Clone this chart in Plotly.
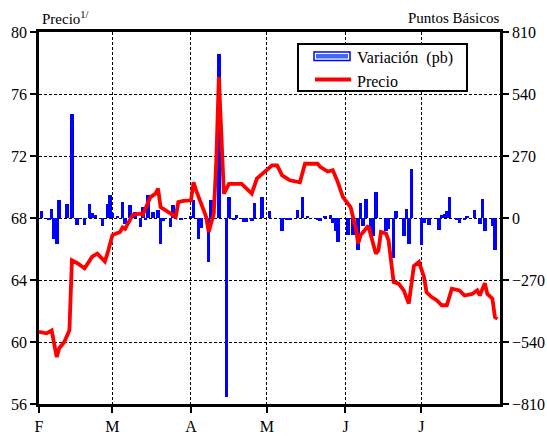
import plotly.graph_objects as go

# Daily change (basis points), plotted as bars on the right-hand axis
bar_dates = [
    "2008-02-02", "2008-02-05", "2008-02-06", "2008-02-07", "2008-02-08", "2008-02-09",
    "2008-02-12", "2008-02-14", "2008-02-16", "2008-02-19", "2008-02-21", "2008-02-22",
    "2008-02-23", "2008-02-26", "2008-02-28", "2008-02-29", "2008-03-01", "2008-03-03",
    "2008-03-05", "2008-03-06", "2008-03-08", "2008-03-10", "2008-03-12", "2008-03-13",
    "2008-03-14", "2008-03-15", "2008-03-17", "2008-03-19", "2008-03-20", "2008-03-21",
    "2008-03-24", "2008-03-25", "2008-03-28", "2008-04-01", "2008-04-02", "2008-04-04",
    "2008-04-05", "2008-04-08", "2008-04-09", "2008-04-12", "2008-04-15", "2008-04-16",
    "2008-04-18", "2008-04-19", "2008-04-22", "2008-04-23", "2008-04-25", "2008-04-26",
    "2008-04-29", "2008-05-02", "2008-05-07", "2008-05-09", "2008-05-10", "2008-05-13",
    "2008-05-15", "2008-05-17", "2008-05-21", "2008-05-22", "2008-05-24", "2008-05-26",
    "2008-05-27", "2008-05-28", "2008-05-29", "2008-06-02", "2008-06-04", "2008-06-06",
    "2008-06-07", "2008-06-08", "2008-06-09", "2008-06-11", "2008-06-12", "2008-06-13",
    "2008-06-17", "2008-06-18", "2008-06-20", "2008-06-21", "2008-06-24", "2008-06-25",
    "2008-06-26", "2008-06-27", "2008-07-01", "2008-07-02", "2008-07-04", "2008-07-08",
    "2008-07-09", "2008-07-10", "2008-07-11", "2008-07-12", "2008-07-15", "2008-07-16",
    "2008-07-18", "2008-07-19", "2008-07-22", "2008-07-24", "2008-07-25", "2008-07-26",
    "2008-07-29", "2008-07-30",
]
bar_values = [
    29, -10, 38, -90, -115, 80,
    63, 455, -29, -29, 63, 23,
    13, -36, 63, 99, 23, 5,
    70, -26, 55, 26, -39, 48,
    -10, 99, 26, 35, -115, -12,
    -37, 55, -8, 10, 80, -90,
    -45, -192, 80, 716, -780, 90,
    -5, 15, -18, -18, -15, 64,
    90, 30, -58, -7, -5, 36,
    90, 5, -10, -12, 8, 13,
    -20, -55, -104, -72, -75, -141,
    65, -35, 81, -65, -80, 115,
    -58, -50, -173, 29, -80, 39,
    -113, 213, -116, -22, -29, -51,
    12, 17, 29, 92, -9, -22,
    -8, 5, 36, -26, 81, -58,
    -35, -141,
]

# Price, plotted as a line on the left-hand axis
price_dates = [
    "2008-02-01", "2008-02-04", "2008-02-06", "2008-02-08", "2008-02-09", "2008-02-11",
    "2008-02-13", "2008-02-14", "2008-02-16", "2008-02-19", "2008-02-22", "2008-02-24",
    "2008-02-27", "2008-02-28",
    "2008-03-01", "2008-03-04", "2008-03-05", "2008-03-06", "2008-03-07", "2008-03-09",
    "2008-03-12", "2008-03-13", "2008-03-14", "2008-03-16", "2008-03-18", "2008-03-19",
    "2008-03-20", "2008-03-22", "2008-03-24", "2008-03-26", "2008-03-27", "2008-03-29",
    "2008-04-01", "2008-04-02", "2008-04-03", "2008-04-05", "2008-04-07", "2008-04-08",
    "2008-04-10", "2008-04-11", "2008-04-12", "2008-04-14", "2008-04-16", "2008-04-21",
    "2008-04-25", "2008-04-27", "2008-04-30",
    "2008-05-03", "2008-05-05", "2008-05-07", "2008-05-10", "2008-05-14", "2008-05-16",
    "2008-05-18", "2008-05-21", "2008-05-22", "2008-05-25", "2008-05-27", "2008-05-29",
    "2008-05-31",
    "2008-06-03", "2008-06-05", "2008-06-06", "2008-06-07", "2008-06-10", "2008-06-13",
    "2008-06-14", "2008-06-15", "2008-06-17", "2008-06-18", "2008-06-20", "2008-06-22",
    "2008-06-24", "2008-06-26", "2008-06-28", "2008-06-30",
    "2008-07-02", "2008-07-03", "2008-07-05", "2008-07-07", "2008-07-09", "2008-07-11",
    "2008-07-13", "2008-07-16", "2008-07-18", "2008-07-21", "2008-07-23", "2008-07-24",
    "2008-07-26", "2008-07-27", "2008-07-29", "2008-07-30", "2008-07-31",
]
price_values = [
    60.65, 60.56, 60.75, 59.03, 59.6, 60.0,
    60.75, 65.27, 65.1, 64.75, 65.5, 65.7,
    65.2, 65.7,
    66.9, 67.1, 67.4, 67.3, 67.6, 68.2,
    68.28, 68.2, 68.6, 69.35, 69.57, 69.9,
    68.7, 68.5, 68.28, 68.07, 69.03, 69.1,
    69.14, 70.3, 69.8, 68.93, 68.07, 67.1,
    68.28, 71.7, 77.1, 69.57, 70.2, 70.2,
    69.57, 70.54, 70.97,
    71.4, 71.4, 70.75, 70.43, 70.3, 71.5,
    71.5, 71.5, 71.3, 71.0, 71.08, 70.3,
    69.35,
    68.7, 67.4, 66.35, 66.9, 67.5, 65.7,
    65.9, 67.1, 67.0, 66.56, 63.87, 63.77,
    63.33, 62.48, 64.9, 65.16,
    64.2, 63.2, 62.9, 62.7, 62.37, 62.37,
    63.44, 63.33, 63.0, 63.1, 63.33, 63.0,
    63.8, 63.1, 62.8, 61.6, 61.5,
]

month_ticks = ["2008-02-01", "2008-03-01", "2008-04-01", "2008-05-01", "2008-06-01", "2008-07-01"]
month_labels = ["F", "M", "A", "M", "J", "J"]

price_ticks = [56, 60, 64, 68, 72, 76, 80]
bp_ticks = [-810, -540, -270, 0, 270, 540, 810]

FONT = '"Times New Roman", "Liberation Serif", Times, serif'
W, H = 547, 436
ML, MR, MT, MB = 39, 47, 32, 32
PW, PH = W - ML - MR, H - MT - MB


def px(x):
    return (x - ML) / PW


def py(y):
    return (H - MB - y) / PH


fig = go.Figure()

fig.add_trace(go.Bar(
    x=bar_dates, y=bar_values, yaxis="y",
    marker=dict(color="#0000ff", line=dict(width=0)),
    width=86400000 * 1.4,
    name="Variación  (pb)", showlegend=False,
))

fig.add_trace(go.Scatter(
    x=price_dates, y=price_values, yaxis="y2",
    mode="lines", line=dict(color="#ff0000", width=3.8),
    name="Precio", showlegend=False,
))

grid = dict(showgrid=True, gridcolor="black", gridwidth=1, griddash="3px,2px")
axis_line = dict(showline=True, linecolor="black", linewidth=2.5)
tickfont = dict(family=FONT, size=16, color="black")

fig.update_layout(
    width=W, height=H,
    margin=dict(l=ML, r=MR, t=MT, b=MB, pad=0, autoexpand=False),
    plot_bgcolor="white", paper_bgcolor="white",
    font=dict(family=FONT, size=16, color="black"),
    bargap=0,
    xaxis=dict(
        type="date", range=["2008-02-01", "2008-08-01"],
        tickvals=month_ticks, ticktext=month_labels,
        ticks="outside", ticklen=6, tickwidth=2, tickcolor="black",
        tickfont=tickfont, ticklabelstandoff=0, automargin=False,
        mirror=True, zeroline=False, **grid, **axis_line,
    ),
    yaxis=dict(
        side="right", range=[-810, 810], tickvals=bp_ticks,
        ticks="outside", ticklen=6, tickwidth=2, tickcolor="black",
        tickfont=tickfont, zeroline=False, automargin=False,
        **grid, **axis_line,
    ),
    yaxis2=dict(
        side="left", overlaying="y", range=[56, 80], tickvals=price_ticks,
        ticks="outside", ticklen=6, tickwidth=2, tickcolor="black",
        tickfont=tickfont, showgrid=False, zeroline=False, automargin=False,
        **axis_line,
    ),
    showlegend=False,
)

# Axis titles
fig.add_annotation(x=px(40), y=py(18), xref="paper", yref="paper",
                   text="Precio<sup>1/</sup>", showarrow=False,
                   xanchor="left", yanchor="middle",
                   font=dict(family=FONT, size=15, color="black"))
fig.add_annotation(x=px(501), y=py(18), xref="paper", yref="paper",
                   text="Puntos Básicos", showarrow=False,
                   xanchor="right", yanchor="middle",
                   font=dict(family=FONT, size=15, color="black"))

# Legend box
fig.add_shape(type="rect", xref="paper", yref="paper",
              x0=px(298), x1=px(467), y0=py(91), y1=py(44),
              line=dict(color="black", width=2), fillcolor="white", layer="above")
fig.add_shape(type="rect", xref="paper", yref="paper",
              x0=px(314), x1=px(350), y0=py(60.5), y1=py(52),
              line=dict(color="#0000ff", width=1.5), fillcolor="white", layer="above")
fig.add_shape(type="rect", xref="paper", yref="paper",
              x0=px(316), x1=px(348), y0=py(58.5), y1=py(54),
              line=dict(width=0), fillcolor="#3d6cf2", layer="above")
fig.add_shape(type="line", xref="paper", yref="paper",
              x0=px(315), x1=px(351), y0=py(79.5), y1=py(79.5),
              line=dict(color="#ff0000", width=4), layer="above")
fig.add_annotation(x=px(355), y=py(57.5), xref="paper", yref="paper",
                   text="Variación  (pb)", showarrow=False,
                   xanchor="left", yanchor="middle",
                   font=dict(family=FONT, size=16, color="black"))
fig.add_annotation(x=px(355), y=py(81.5), xref="paper", yref="paper",
                   text="Precio", showarrow=False,
                   xanchor="left", yanchor="middle",
                   font=dict(family=FONT, size=16, color="black"))

fig.write_html("out.html")
